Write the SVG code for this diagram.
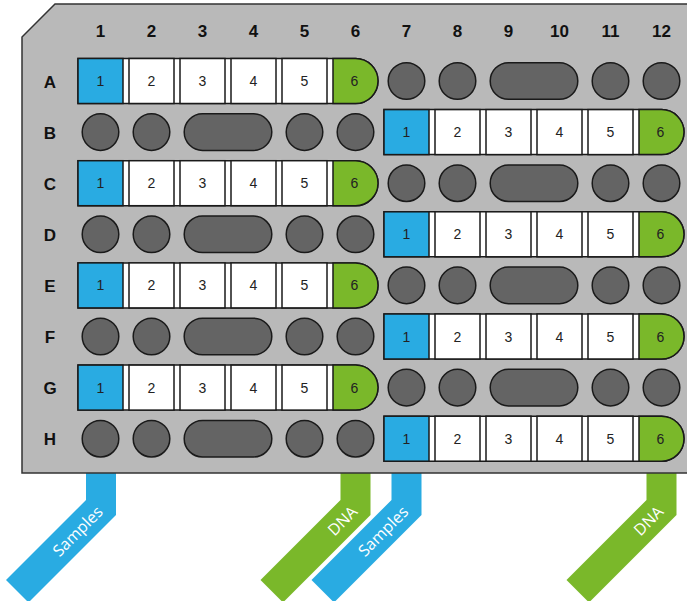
<svg xmlns="http://www.w3.org/2000/svg" width="687" height="601" viewBox="0 0 687 601">
<style>
.plate{fill:#b9b9b9;stroke:#333;stroke-width:1.5}
.lbl{font-family:"Liberation Sans",Arial,sans-serif;font-weight:bold;font-size:17px;fill:#111;text-anchor:middle}
.sout{fill:#fff;stroke:#1a1a1a;stroke-width:1.5}
.cb{fill:#29abe2;stroke:#1a1a1a;stroke-width:1.5}
.cw{fill:#fff;stroke:#1a1a1a;stroke-width:1.5}
.cg{fill:#7ab82a;stroke:#1a1a1a;stroke-width:1.5}
.num{font-family:"Liberation Sans",Arial,sans-serif;font-size:14px;fill:#222;text-anchor:middle}
.well{fill:#646464;stroke:#1a1a1a;stroke-width:1.5}
.bb{fill:#29abe2}
.bg{fill:#7ab82a}
.bt{font-family:"Open Sans","Noto Sans",sans-serif;font-size:16px;fill:#fff;text-anchor:end}
</style>
<rect width="687" height="601" fill="#fff"/>
<g id="connectors">
<polygon class="bb" points="86,470 116,470 116,515 28.5,602.5 6,580 86,500"/>
<polygon class="bg" points="340.5,470 370.5,470 370.5,515 283,602.5 260.5,580 340.5,500"/>
<polygon class="bb" points="391.5,470 421.5,470 421.5,515 334,602.5 311.5,580 391.5,500"/>
<polygon class="bg" points="646.5,470 676.5,470 676.5,515 589,602.5 566.5,580 646.5,500"/>
<text class="bt" transform="translate(100,509) rotate(-45)" x="0" y="5.5">Samples</text>
<text class="bt" transform="translate(354.5,509) rotate(-45)" x="0" y="5.5">DNA</text>
<text class="bt" transform="translate(405.5,509) rotate(-45)" x="0" y="5.5">Samples</text>
<text class="bt" transform="translate(660.5,509) rotate(-45)" x="0" y="5.5">DNA</text>
</g>
<g id="plate">
<path class="plate" d="M55,4 H700 V473 H22 V37 Z"/>
</g>
<g id="column-labels">
<text class="lbl" x="100.5" y="37">1</text>
<text class="lbl" x="151.5" y="37">2</text>
<text class="lbl" x="202.5" y="37">3</text>
<text class="lbl" x="253.5" y="37">4</text>
<text class="lbl" x="304.5" y="37">5</text>
<text class="lbl" x="355.5" y="37">6</text>
<text class="lbl" x="406.5" y="37">7</text>
<text class="lbl" x="457.5" y="37">8</text>
<text class="lbl" x="508.5" y="37">9</text>
<text class="lbl" x="559.5" y="37">10</text>
<text class="lbl" x="610.5" y="37">11</text>
<text class="lbl" x="661.5" y="37">12</text>
</g>
<g id="row-labels">
<text class="lbl" x="50" y="87.5">A</text>
<text class="lbl" x="50" y="138.6">B</text>
<text class="lbl" x="50" y="189.7">C</text>
<text class="lbl" x="50" y="240.8">D</text>
<text class="lbl" x="50" y="291.9">E</text>
<text class="lbl" x="50" y="343">F</text>
<text class="lbl" x="50" y="394.1">G</text>
<text class="lbl" x="50" y="445.2">H</text>
</g>
<g id="strip-A" transform="translate(78,58.5)">
<path class="sout" d="M0,0 H277.5 A22.5,22.5 0 0 1 277.5,45 H0 Z"/>
<rect class="cb" x="0" y="0" width="45" height="45"/>
<rect class="cw" x="51" y="0" width="45" height="45"/>
<rect class="cw" x="102" y="0" width="45" height="45"/>
<rect class="cw" x="153" y="0" width="45" height="45"/>
<rect class="cw" x="204" y="0" width="45" height="45"/>
<path class="cg" d="M255,0 H277.5 A22.5,22.5 0 0 1 277.5,45 H255 Z"/>
<text class="num" x="22.5" y="27.5">1</text><text class="num" x="73.5" y="27.5">2</text><text class="num" x="124.5" y="27.5">3</text><text class="num" x="175.5" y="27.5">4</text><text class="num" x="226.5" y="27.5">5</text><text class="num" x="276.5" y="27.5">6</text>
</g>
<g id="strip-C" transform="translate(78,160.7)">
<path class="sout" d="M0,0 H277.5 A22.5,22.5 0 0 1 277.5,45 H0 Z"/>
<rect class="cb" x="0" y="0" width="45" height="45"/>
<rect class="cw" x="51" y="0" width="45" height="45"/>
<rect class="cw" x="102" y="0" width="45" height="45"/>
<rect class="cw" x="153" y="0" width="45" height="45"/>
<rect class="cw" x="204" y="0" width="45" height="45"/>
<path class="cg" d="M255,0 H277.5 A22.5,22.5 0 0 1 277.5,45 H255 Z"/>
<text class="num" x="22.5" y="27.5">1</text><text class="num" x="73.5" y="27.5">2</text><text class="num" x="124.5" y="27.5">3</text><text class="num" x="175.5" y="27.5">4</text><text class="num" x="226.5" y="27.5">5</text><text class="num" x="276.5" y="27.5">6</text>
</g>
<g id="strip-E" transform="translate(78,262.9)">
<path class="sout" d="M0,0 H277.5 A22.5,22.5 0 0 1 277.5,45 H0 Z"/>
<rect class="cb" x="0" y="0" width="45" height="45"/>
<rect class="cw" x="51" y="0" width="45" height="45"/>
<rect class="cw" x="102" y="0" width="45" height="45"/>
<rect class="cw" x="153" y="0" width="45" height="45"/>
<rect class="cw" x="204" y="0" width="45" height="45"/>
<path class="cg" d="M255,0 H277.5 A22.5,22.5 0 0 1 277.5,45 H255 Z"/>
<text class="num" x="22.5" y="27.5">1</text><text class="num" x="73.5" y="27.5">2</text><text class="num" x="124.5" y="27.5">3</text><text class="num" x="175.5" y="27.5">4</text><text class="num" x="226.5" y="27.5">5</text><text class="num" x="276.5" y="27.5">6</text>
</g>
<g id="strip-G" transform="translate(78,365.1)">
<path class="sout" d="M0,0 H277.5 A22.5,22.5 0 0 1 277.5,45 H0 Z"/>
<rect class="cb" x="0" y="0" width="45" height="45"/>
<rect class="cw" x="51" y="0" width="45" height="45"/>
<rect class="cw" x="102" y="0" width="45" height="45"/>
<rect class="cw" x="153" y="0" width="45" height="45"/>
<rect class="cw" x="204" y="0" width="45" height="45"/>
<path class="cg" d="M255,0 H277.5 A22.5,22.5 0 0 1 277.5,45 H255 Z"/>
<text class="num" x="22.5" y="27.5">1</text><text class="num" x="73.5" y="27.5">2</text><text class="num" x="124.5" y="27.5">3</text><text class="num" x="175.5" y="27.5">4</text><text class="num" x="226.5" y="27.5">5</text><text class="num" x="276.5" y="27.5">6</text>
</g>
<g id="strip-B" transform="translate(384,109.6)">
<path class="sout" d="M0,0 H277.5 A22.5,22.5 0 0 1 277.5,45 H0 Z"/>
<rect class="cb" x="0" y="0" width="45" height="45"/>
<rect class="cw" x="51" y="0" width="45" height="45"/>
<rect class="cw" x="102" y="0" width="45" height="45"/>
<rect class="cw" x="153" y="0" width="45" height="45"/>
<rect class="cw" x="204" y="0" width="45" height="45"/>
<path class="cg" d="M255,0 H277.5 A22.5,22.5 0 0 1 277.5,45 H255 Z"/>
<text class="num" x="22.5" y="27.5">1</text><text class="num" x="73.5" y="27.5">2</text><text class="num" x="124.5" y="27.5">3</text><text class="num" x="175.5" y="27.5">4</text><text class="num" x="226.5" y="27.5">5</text><text class="num" x="276.5" y="27.5">6</text>
</g>
<g id="strip-D" transform="translate(384,211.8)">
<path class="sout" d="M0,0 H277.5 A22.5,22.5 0 0 1 277.5,45 H0 Z"/>
<rect class="cb" x="0" y="0" width="45" height="45"/>
<rect class="cw" x="51" y="0" width="45" height="45"/>
<rect class="cw" x="102" y="0" width="45" height="45"/>
<rect class="cw" x="153" y="0" width="45" height="45"/>
<rect class="cw" x="204" y="0" width="45" height="45"/>
<path class="cg" d="M255,0 H277.5 A22.5,22.5 0 0 1 277.5,45 H255 Z"/>
<text class="num" x="22.5" y="27.5">1</text><text class="num" x="73.5" y="27.5">2</text><text class="num" x="124.5" y="27.5">3</text><text class="num" x="175.5" y="27.5">4</text><text class="num" x="226.5" y="27.5">5</text><text class="num" x="276.5" y="27.5">6</text>
</g>
<g id="strip-F" transform="translate(384,314)">
<path class="sout" d="M0,0 H277.5 A22.5,22.5 0 0 1 277.5,45 H0 Z"/>
<rect class="cb" x="0" y="0" width="45" height="45"/>
<rect class="cw" x="51" y="0" width="45" height="45"/>
<rect class="cw" x="102" y="0" width="45" height="45"/>
<rect class="cw" x="153" y="0" width="45" height="45"/>
<rect class="cw" x="204" y="0" width="45" height="45"/>
<path class="cg" d="M255,0 H277.5 A22.5,22.5 0 0 1 277.5,45 H255 Z"/>
<text class="num" x="22.5" y="27.5">1</text><text class="num" x="73.5" y="27.5">2</text><text class="num" x="124.5" y="27.5">3</text><text class="num" x="175.5" y="27.5">4</text><text class="num" x="226.5" y="27.5">5</text><text class="num" x="276.5" y="27.5">6</text>
</g>
<g id="strip-H" transform="translate(384,416.2)">
<path class="sout" d="M0,0 H277.5 A22.5,22.5 0 0 1 277.5,45 H0 Z"/>
<rect class="cb" x="0" y="0" width="45" height="45"/>
<rect class="cw" x="51" y="0" width="45" height="45"/>
<rect class="cw" x="102" y="0" width="45" height="45"/>
<rect class="cw" x="153" y="0" width="45" height="45"/>
<rect class="cw" x="204" y="0" width="45" height="45"/>
<path class="cg" d="M255,0 H277.5 A22.5,22.5 0 0 1 277.5,45 H255 Z"/>
<text class="num" x="22.5" y="27.5">1</text><text class="num" x="73.5" y="27.5">2</text><text class="num" x="124.5" y="27.5">3</text><text class="num" x="175.5" y="27.5">4</text><text class="num" x="226.5" y="27.5">5</text><text class="num" x="276.5" y="27.5">6</text>
</g>
<g id="wells-A" transform="translate(0,81)">
<circle class="well" cx="406.5" cy="0" r="18.3"/><circle class="well" cx="457.5" cy="0" r="18.3"/>
<rect class="well" x="490.2" y="-18.3" width="87.6" height="36.6" rx="18.3"/>
<circle class="well" cx="610.5" cy="0" r="18.3"/><circle class="well" cx="661.5" cy="0" r="18.3"/>
</g>
<g id="wells-C" transform="translate(0,183.2)">
<circle class="well" cx="406.5" cy="0" r="18.3"/><circle class="well" cx="457.5" cy="0" r="18.3"/>
<rect class="well" x="490.2" y="-18.3" width="87.6" height="36.6" rx="18.3"/>
<circle class="well" cx="610.5" cy="0" r="18.3"/><circle class="well" cx="661.5" cy="0" r="18.3"/>
</g>
<g id="wells-E" transform="translate(0,285.4)">
<circle class="well" cx="406.5" cy="0" r="18.3"/><circle class="well" cx="457.5" cy="0" r="18.3"/>
<rect class="well" x="490.2" y="-18.3" width="87.6" height="36.6" rx="18.3"/>
<circle class="well" cx="610.5" cy="0" r="18.3"/><circle class="well" cx="661.5" cy="0" r="18.3"/>
</g>
<g id="wells-G" transform="translate(0,387.6)">
<circle class="well" cx="406.5" cy="0" r="18.3"/><circle class="well" cx="457.5" cy="0" r="18.3"/>
<rect class="well" x="490.2" y="-18.3" width="87.6" height="36.6" rx="18.3"/>
<circle class="well" cx="610.5" cy="0" r="18.3"/><circle class="well" cx="661.5" cy="0" r="18.3"/>
</g>
<g id="wells-B" transform="translate(0,132.1)">
<circle class="well" cx="100.5" cy="0" r="18.3"/><circle class="well" cx="151.5" cy="0" r="18.3"/>
<rect class="well" x="184.2" y="-18.3" width="87.6" height="36.6" rx="18.3"/>
<circle class="well" cx="304.5" cy="0" r="18.3"/><circle class="well" cx="355.5" cy="0" r="18.3"/>
</g>
<g id="wells-D" transform="translate(0,234.3)">
<circle class="well" cx="100.5" cy="0" r="18.3"/><circle class="well" cx="151.5" cy="0" r="18.3"/>
<rect class="well" x="184.2" y="-18.3" width="87.6" height="36.6" rx="18.3"/>
<circle class="well" cx="304.5" cy="0" r="18.3"/><circle class="well" cx="355.5" cy="0" r="18.3"/>
</g>
<g id="wells-F" transform="translate(0,336.5)">
<circle class="well" cx="100.5" cy="0" r="18.3"/><circle class="well" cx="151.5" cy="0" r="18.3"/>
<rect class="well" x="184.2" y="-18.3" width="87.6" height="36.6" rx="18.3"/>
<circle class="well" cx="304.5" cy="0" r="18.3"/><circle class="well" cx="355.5" cy="0" r="18.3"/>
</g>
<g id="wells-H" transform="translate(0,438.7)">
<circle class="well" cx="100.5" cy="0" r="18.3"/><circle class="well" cx="151.5" cy="0" r="18.3"/>
<rect class="well" x="184.2" y="-18.3" width="87.6" height="36.6" rx="18.3"/>
<circle class="well" cx="304.5" cy="0" r="18.3"/><circle class="well" cx="355.5" cy="0" r="18.3"/>
</g>
</svg>
